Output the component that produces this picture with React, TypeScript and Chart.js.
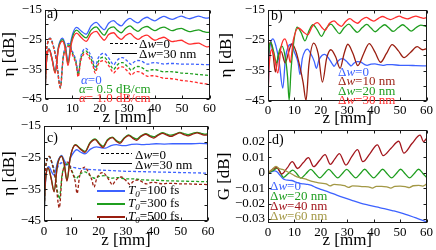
import React, { useEffect, useRef } from 'react';
import { Chart, registerables } from 'chart.js';
Chart.register(...registerables);

const SERIF = '"Liberation Serif", "Times New Roman", Times, serif';
const W = 436;
const H = 250;

// ---------- ticks ----------
const xTicks = [0, 10, 20, 30, 40, 50, 60];
const xTickLabels = ['0', '10', '20', '30', '40', '50', '60'];
const etaTicks = [-45, -40, -35, -30, -25, -20, -15];
const etaTickLabels = ['\u221245', '', '\u221235', '', '\u221225', '', '\u221215'];
const gTicks = [-0.03, -0.02, -0.01, 0, 0.01, 0.02];
const gTickLabels = ['\u22120.03', '\u22120.02', '\u22120.01', '0', '0.01', '0.02'];

// ---------- Δw = 30 nm (solid) family, z grid ----------
const zS = [0, 0.3, 0.8, 1.5, 2.6, 3.7, 4.9, 6.4, 7.4, 8.4, 9.6, 11.5, 13.3, 15.0, 16.8, 18.7, 20.3, 21.6, 23.2, 25.0, 26.4, 27.8, 29.4, 31.0, 32.5, 33.9, 35.5, 37.2, 38.7, 40.1, 41.8, 43.4, 45.0, 46.4, 48.1, 49.7, 51.2, 52.7, 54.4, 56.0, 57.5, 59.0, 60.0];
const etaS30 = [-45, -36, -30, -28.2, -31.5, -35.8, -27.5, -24.6, -27, -32.4, -25, -21.0, -22.3, -23.3, -20.5, -19.3, -20.8, -21.8, -19.6, -18.7, -19.8, -20.5, -18.9, -18.0, -18.9, -19.5, -18.3, -17.6, -18.3, -18.8, -17.9, -17.3, -17.9, -18.3, -17.7, -17.2, -17.7, -18.1, -17.6, -17.2, -17.6, -17.9, -17.7];
const etaS30Alpha05 = [-45, -36.0, -30.1, -28.3, -31.7, -36.1, -27.9, -25.1, -27.6, -33.1, -25.8, -21.9, -23.4, -24.5, -21.9, -20.8, -22.5, -23.6, -21.5, -20.8, -22.0, -22.8, -21.3, -20.5, -21.6, -22.3, -21.2, -20.7, -21.5, -22.1, -21.3, -20.9, -21.6, -22.1, -21.6, -21.3, -21.9, -22.4, -22.1, -21.8, -22.3, -22.7, -22.6];
const etaS30Alpha10 = [-45, -36.0, -30.1, -28.4, -31.9, -36.4, -28.3, -25.6, -28.2, -33.8, -26.6, -22.9, -24.5, -25.7, -23.2, -22.3, -24.1, -25.3, -23.4, -22.8, -24.1, -25.0, -23.7, -23.0, -24.2, -25.0, -24.1, -23.6, -24.6, -25.3, -24.7, -24.3, -25.2, -25.8, -25.5, -25.3, -26.0, -26.6, -26.4, -26.3, -26.9, -27.5, -27.4];
const etaS30T300 = [-45, -36, -30, -28.2, -31.4, -35.6, -27.4, -24.5, -26.9, -32.1, -24.9, -20.9, -22.1, -23.0, -20.3, -19.1, -20.5, -21.4, -19.3, -18.5, -19.5, -20.1, -18.7, -17.8, -18.6, -19.1, -18.1, -17.4, -18.0, -18.4, -17.7, -17.1, -17.6, -17.9, -17.5, -17.0, -17.4, -17.7, -17.3, -17.0, -17.3, -17.6, -17.4];

// ---------- Δw = 0 (dashed) family ----------
const zD = [0, 0.4, 1.0, 1.9, 3.0, 4.2, 5.6, 6.6, 7.6, 8.7, 10.0, 11.4, 12.1, 13.0, 14.0, 14.9, 16.2, 17.5, 18.3, 19.3, 20.5, 21.5, 23, 24.3, 25, 26, 27.3, 28.3, 29.7, 30.8, 31.5, 32.5, 33.8, 35, 36.5, 37.5, 39, 40.5, 42, 43.5, 45, 47, 50, 53, 56, 60];
const etaD0 = [-45, -31, -26, -24.6, -27, -32, -40.8, -31, -27.2, -26.4, -29, -32.5, -36.3, -31, -28.6, -28.0, -29.5, -32, -34.3, -31.5, -30, -29.7, -31, -32.8, -33.6, -32.4, -31.3, -31.1, -32, -33, -33.5, -32.6, -32.1, -32.2, -33, -33.3, -32.9, -32.8, -33.1, -33.3, -33.1, -33.1, -33.3, -33.3, -33.4, -33.5];
const etaD0Alpha05 = [-45, -31.0, -26.1, -24.7, -27.2, -32.3, -41.1, -31.4, -27.7, -26.9, -29.6, -33.2, -37.0, -31.8, -29.4, -28.9, -30.5, -33.1, -35.4, -32.7, -31.2, -31.0, -32.4, -34.3, -35.1, -34.0, -32.9, -32.8, -33.8, -34.8, -35.4, -34.6, -34.1, -34.3, -35.2, -35.6, -35.2, -35.2, -35.6, -35.9, -35.8, -35.9, -36.3, -36.5, -36.8, -37.1];
const etaD0Alpha10 = [-45, -31.0, -26.1, -24.8, -27.3, -32.5, -41.4, -31.7, -28.0, -27.4, -30.1, -33.8, -37.6, -32.4, -30.1, -29.6, -31.3, -33.9, -36.3, -33.6, -32.3, -32.1, -33.5, -35.5, -36.3, -35.3, -34.3, -34.2, -35.3, -36.4, -37.0, -36.2, -35.8, -36.1, -37.0, -37.4, -37.2, -37.3, -37.7, -38.1, -38.1, -38.3, -38.8, -39.1, -39.6, -40.1];

// ---------- panel b: Δw = 10 nm, 20 nm ----------
const zB10 = [0, 0.4, 1.0, 1.9, 2.8, 3.8, 5.0, 6.5, 7.8, 9.0, 10.5, 12.0, 13.3, 14.4, 15.5, 17.3, 19.0, 20.6, 22.2, 23.8, 25.6, 27.3, 28.8, 30.2, 32.2, 34.0, 36.2, 38.3, 40.5, 42.6, 44.8, 47.0, 49.3, 51.5, 54.0, 56.5, 58.5, 60];
const etaB10 = [-33, -27.5, -25.6, -29.5, -35.5, -30.5, -28.8, -32.5, -29, -26.3, -28.5, -33.5, -39, -44.8, -33, -26, -29.5, -38.8, -31, -28.2, -30.5, -34.3, -29.5, -26.4, -29.5, -33.4, -29.5, -26.2, -29, -32.3, -29.5, -26.5, -28.5, -30.8, -29, -27.2, -28.2, -27.8];
const zB20 = [0, 0.4, 1.1, 2.2, 3.2, 4.3, 5.3, 6.6, 7.4, 8.0, 8.7, 9.7, 11.0, 12.5, 14.0, 15.5, 17.0, 18.6, 20.2, 22.0, 23.8, 25.4, 27.0, 28.8, 30.6, 32.2, 33.8, 35.6, 37.4, 39.0, 40.6, 42.4, 44.2, 45.8, 47.4, 49.2, 51.0, 52.6, 54.2, 56.0, 57.8, 60];
const etaB20 = [-34, -28, -25.8, -29, -32.5, -28.5, -27, -31, -37, -44.8, -35, -26, -20.8, -22.5, -25.3, -22, -20.0, -21.6, -23.8, -21.2, -19.8, -21.3, -22.9, -21, -19.8, -21.2, -22.5, -21, -19.9, -21.1, -22.3, -21, -20.0, -21.1, -22.2, -21, -20.0, -21.0, -22.1, -21, -20.1, -20.6];

// ---------- panel c: T0 = 300 fs dashed, T0 = 100 fs ----------
const zC300d = [0, 0.4, 1.0, 1.9, 3.0, 4.2, 5.6, 6.6, 7.6, 8.7, 10.0, 11.7, 13.2, 15.0, 17.0, 18.5, 20.5, 22.0, 24.5, 27, 30, 33, 36, 40, 45, 50, 55, 60];
const etaC300d = [-45, -31, -26, -24.6, -27, -31.5, -38, -30.5, -27.5, -27, -28.8, -31.6, -30.2, -29.5, -30.8, -31.5, -30.8, -30.7, -31.5, -31.3, -31.7, -31.7, -32, -32.1, -32.3, -32.4, -32.5, -32.6];
const zC100 = [0, 0.4, 1.0, 1.8, 2.8, 3.7, 5.0, 6.4, 7.5, 8.5, 10, 12, 13.5, 15, 17, 19.2, 21, 22.5, 24.5, 26.5, 28.5, 30, 32, 34, 36, 38, 41, 44, 47, 50, 54, 57, 60];
const etaC100 = [-45, -35, -29, -27.8, -29.5, -30.5, -26.3, -24.3, -26, -27.3, -24.5, -22.5, -23.3, -23.8, -22.3, -21.6, -21.9, -22.0, -21.2, -20.9, -21.2, -21.2, -20.8, -20.7, -20.9, -20.8, -20.6, -20.7, -20.6, -20.6, -20.6, -20.5, -20.6];
const zC100d = [0, 0.4, 1.0, 1.9, 3.0, 4.2, 5.5, 6.7, 8, 10, 12, 15, 20, 25, 30, 35, 40, 45, 50, 55, 60];
const etaC100d = [-45, -31, -26, -24.7, -26.8, -29.3, -27.2, -26.6, -27.3, -27.9, -28.3, -28.6, -28.9, -29.1, -29.3, -29.4, -29.5, -29.6, -29.7, -29.8, -29.9];

// ---------- panel d: G [dB] ----------
const zG0 = [0, 1, 2.5, 3.5, 4.5, 5.5, 6.5, 7.5, 9, 10.5, 12, 13.5, 15, 16.5, 18, 20, 23, 26, 29, 32, 35, 38, 41, 44, 47, 50, 53, 56, 58, 60];
const gG0 = [0, 0.0005, 0.0012, 0.0005, -0.0015, -0.0035, -0.0045, -0.0048, -0.005, -0.006, -0.0068, -0.0072, -0.0075, -0.0082, -0.0095, -0.0108, -0.0125, -0.0145, -0.0163, -0.018, -0.0197, -0.021, -0.0222, -0.0233, -0.0245, -0.0258, -0.0275, -0.0293, -0.0305, -0.0318];
const zG20 = [0, 2, 3.5, 4.6, 5.8, 7.6, 9.4, 10.9, 12.4, 14.3, 16.2, 17.9, 19.6, 21.3, 23.0, 24.7, 26.4, 28.1, 29.8, 31.5, 33.2, 34.9, 36.6, 38.3, 40.0, 41.7, 43.4, 45.1, 46.8, 48.5, 50.2, 51.9, 53.6, 55.3, 57.0, 58.7, 60];
const gG20 = [0, 0.0015, 0.003, 0.0005, -0.003, -0.0006, 0.0017, -0.0006, -0.0035, -0.0007, 0.0022, -0.0006, -0.0033, -0.0006, 0.0022, -0.0006, -0.0033, -0.0006, 0.0022, -0.0006, -0.0033, -0.0006, 0.0023, -0.0006, -0.0033, -0.0006, 0.0023, -0.0006, -0.0033, -0.0006, 0.0023, -0.0006, -0.0033, -0.0006, 0.0023, -0.0006, -0.003];
const zG40 = [0, 1.5, 3.3, 5.2, 7.2, 9.2, 11.2, 13.3, 15.3, 17.3, 19.5, 21.6, 23.6, 25.3, 27.0, 29.5, 31.7, 33.9, 35.9, 38.6, 41.4, 43.6, 46.5, 49.5, 51.4, 54.5, 57.6, 58.9, 60];
const gG40 = [0, 0.002, 0.0035, -0.0008, 0.003, 0.0072, 0.0028, 0.0065, 0.0098, 0.004, 0.008, 0.0118, 0.0055, 0.009, 0.0125, 0.005, 0.0105, 0.015, 0.0072, 0.0125, 0.0182, 0.0112, 0.0158, 0.0205, 0.0128, 0.019, 0.0245, 0.0202, 0.0224];
const zG60 = [0, 1.5, 3.0, 4.2, 5.5, 7, 8.5, 10, 12, 14, 16, 18, 20, 22, 23.5, 25, 27, 29, 30.5, 32, 34, 36, 38, 39.5, 41, 43, 45, 46.5, 48, 50, 52, 53.5, 55, 57, 58.5, 60];
const gG60 = [0, 0.002, 0.0042, 0.0028, 0.0022, 0.001, -0.0003, -0.0018, -0.0032, -0.004, -0.0052, -0.006, -0.0067, -0.0072, -0.0085, -0.0075, -0.0078, -0.0084, -0.0095, -0.0085, -0.0086, -0.009, -0.0091, -0.0099, -0.0088, -0.0088, -0.0092, -0.0099, -0.0088, -0.0087, -0.009, -0.0096, -0.0084, -0.0082, -0.0086, -0.0074];

const COL = {
  blue: '#3d62ff',
  green: '#1f9e1f',
  red: '#ff2d2d',
  brown: '#9a1e10',
  dred: '#a3161d',
  olive: '#a39845',
};

type Series = { z: number[]; v: number[]; color: string; dash?: boolean };
type Panel = {
  series: Series[];
  left: number; right: number; top: number; bottom: number;
  yTitle: string; yTitleX: number; xTitleY: number;
  yMin: number; yMax: number; yTicks: number[]; yLabels: string[];
  xPad: number;
};

const TITLE_SIZE = 17;
const TICK_SIZE = 13;
const HALF = TITLE_SIZE / 2;

const framePlugin = {
  id: 'frame',
  afterDatasetsDraw(chart: any) {
    const { ctx, chartArea: a } = chart;
    const xs = chart.scales.x;
    const ys = chart.scales.y;
    const L = Math.round(a.left) + 0.5;
    const R = Math.round(a.right) - 0.5;
    const T = Math.round(a.top) + 0.5;
    const B = Math.round(a.bottom) - 0.5;
    ctx.save();
    ctx.setLineDash([]);
    ctx.strokeStyle = '#1a1a1a';
    ctx.lineWidth = 1;
    ctx.strokeRect(L, T, R - L, B - T);
    ctx.beginPath();
    const tl = 3;
    for (const t of xs.ticks) {
      const px = Math.round(xs.getPixelForValue(t.value)) + 0.5;
      ctx.moveTo(px, B); ctx.lineTo(px, B - tl);
      ctx.moveTo(px, T); ctx.lineTo(px, T + tl);
    }
    for (const t of ys.ticks) {
      const py = Math.round(ys.getPixelForValue(t.value)) + 0.5;
      ctx.moveTo(L, py); ctx.lineTo(L + tl, py);
      ctx.moveTo(R, py); ctx.lineTo(R - tl, py);
    }
    ctx.stroke();
    ctx.restore();
  },
};

function PanelChart({ p }: { p: Panel }) {
  const ref = useRef<HTMLCanvasElement>(null);
  useEffect(() => {
    const canvas = ref.current as HTMLCanvasElement;
    const chart = new Chart(canvas, {
      type: 'line',
      data: {
        datasets: p.series.map((s) => ({
          data: s.z.map((z, i) => ({ x: z, y: s.v[i] })),
          borderColor: s.color,
          borderWidth: 1.3,
          borderDash: s.dash ? [3, 2] : [],
          pointRadius: 0,
          cubicInterpolationMode: 'monotone',
          fill: false,
        })),
      },
      options: {
        animation: false,
        responsive: false,
        devicePixelRatio: 1,
        events: [],
        layout: {
          padding: {
            left: p.yTitleX - HALF,
            right: W - p.right,
            top: p.top,
            bottom: H - (p.xTitleY + HALF),
          },
        },
        plugins: { legend: { display: false }, tooltip: { enabled: false } },
        scales: {
          x: {
            type: 'linear',
            min: 0,
            max: 60,
            border: { display: false },
            grid: { display: false, drawTicks: false },
            afterBuildTicks: (s: any) => { s.ticks = xTicks.map((v) => ({ value: v })); },
            ticks: {
              autoSkip: false,
              maxRotation: 0,
              padding: p.xPad,
              color: '#000',
              font: { family: SERIF, size: TICK_SIZE, lineHeight: 1 },
              callback: (_v: any, i: number) => xTickLabels[i],
            },
            title: { display: true, text: 'z [mm]', color: '#000', font: { family: SERIF, size: TITLE_SIZE, lineHeight: 1 }, padding: 0 },
            afterFit: (s: any) => { s.height = p.xTitleY + HALF - p.bottom; },
          },
          y: {
            type: 'linear',
            min: p.yMin,
            max: p.yMax,
            border: { display: false },
            grid: { display: false, drawTicks: false },
            afterBuildTicks: (s: any) => { s.ticks = p.yTicks.map((v) => ({ value: v })); },
            ticks: {
              autoSkip: false,
              padding: 3,
              color: '#000',
              font: { family: SERIF, size: TICK_SIZE, lineHeight: 1 },
              callback: (_v: any, i: number) => p.yLabels[i],
            },
            title: { display: true, text: p.yTitle, color: '#000', font: { family: SERIF, size: TITLE_SIZE, lineHeight: 1 }, padding: 0 },
            afterFit: (s: any) => { s.width = p.left - (p.yTitleX - HALF); },
          },
        },
      } as any,
      plugins: [framePlugin],
    });
    return () => chart.destroy();
  }, []);
  return (
    <canvas
      ref={ref}
      width={W}
      height={H}
      style={{ position: 'absolute', left: 0, top: 0, width: W, height: H, pointerEvents: 'none' }}
    />
  );
}

const panelA: Panel = {
  series: [
    { z: zS, v: etaS30Alpha10, color: COL.red },
    { z: zD, v: etaD0Alpha10, color: COL.red, dash: true },
    { z: zS, v: etaS30Alpha05, color: COL.green },
    { z: zD, v: etaD0Alpha05, color: COL.green, dash: true },
    { z: zS, v: etaS30, color: COL.blue },
    { z: zD, v: etaD0, color: COL.blue, dash: true },
  ],
  left: 45, right: 209.5, top: 6, bottom: 99,
  yTitle: '\u03b7 [dB]', yTitleX: 10, xTitleY: 118,
  yMin: -45, yMax: -15, yTicks: etaTicks, yLabels: etaTickLabels, xPad: 3,
};

const panelB: Panel = {
  series: [
    { z: zS, v: etaS30, color: COL.red },
    { z: zB20, v: etaB20, color: COL.green },
    { z: zB10, v: etaB10, color: COL.brown },
    { z: zD, v: etaD0, color: COL.blue },
  ],
  left: 268, right: 428, top: 7, bottom: 101,
  yTitle: '\u03b7 [dB]', yTitleX: 227, xTitleY: 119,
  yMin: -45, yMax: -15, yTicks: etaTicks, yLabels: etaTickLabels, xPad: 3,
};

const panelC: Panel = {
  series: [
    { z: zS, v: etaS30, color: COL.brown },
    { z: zD, v: etaD0, color: COL.brown, dash: true },
    { z: zS, v: etaS30T300, color: COL.green },
    { z: zC300d, v: etaC300d, color: COL.green, dash: true },
    { z: zC100, v: etaC100, color: COL.blue },
    { z: zC100d, v: etaC100d, color: COL.blue, dash: true },
  ],
  left: 44, right: 208, top: 126, bottom: 221,
  yTitle: '\u03b7 [dB]', yTitleX: 10, xTitleY: 241,
  yMin: -45, yMax: -15, yTicks: etaTicks, yLabels: etaTickLabels, xPad: 4,
};

const panelD: Panel = {
  series: [
    { z: zG60, v: gG60, color: COL.olive },
    { z: zG40, v: gG40, color: COL.dred },
    { z: zG20, v: gG20, color: COL.green },
    { z: zG0, v: gG0, color: COL.blue },
  ],
  left: 268, right: 428, top: 130, bottom: 223,
  yTitle: 'G [dB]', yTitleX: 225, xTitleY: 241,
  yMin: -0.0326, yMax: 0.0278, yTicks: gTicks, yLabels: gTickLabels, xPad: 3,
};

function Txt({ x, y, color = '#000', size = 13, children }: any) {
  return (
    <div
      style={{
        position: 'absolute', left: x, top: y, transform: 'translateY(-50%)',
        color, fontSize: size, fontFamily: SERIF, lineHeight: 1, whiteSpace: 'nowrap',
      }}
    >
      {children}
    </div>
  );
}

function Seg({ x1, x2, y, color = '#000', dash = false, w = 1 }: any) {
  const bg = dash
    ? `repeating-linear-gradient(to right, ${color} 0px, ${color} 3px, transparent 3px, transparent 5px)`
    : color;
  return <div style={{ position: 'absolute', left: x1, top: y - w / 2, width: x2 - x1, height: w, background: bg }} />;
}

const Dw = ({ v }: { v: string }) => (
  <span>{'\u0394'}<i>w</i>={v}</span>
);
const T0 = ({ v }: { v: string }) => (
  <span><i>T</i><sub style={{ fontSize: '0.7em', verticalAlign: '-0.3em', fontStyle: 'italic' }}>0</sub>={v}</span>
);

export default function App() {
  return (
    <div style={{ position: 'absolute', left: 0, top: 0, width: W, height: H, background: '#fff', overflow: 'hidden' }}>
      <PanelChart p={panelA} />
      <PanelChart p={panelB} />
      <PanelChart p={panelC} />
      <PanelChart p={panelD} />

      {/* panel a */}
      <Txt x={47} y={14} size={14}>a)</Txt>
      <Seg x1={110} x2={137} y={43} dash />
      <Txt x={139} y={43}><Dw v="0" /></Txt>
      <Seg x1={112} x2={137} y={53} />
      <Txt x={139} y={53}><Dw v="30 nm" /></Txt>
      <Txt x={81} y={78.5} color={COL.blue}><i>{'\u03b1'}</i>=0</Txt>
      <Txt x={79} y={88} color={COL.green}><i>{'\u03b1'}</i>= 0.5 dB/cm</Txt>
      <Txt x={79} y={97} color={COL.red}><i>{'\u03b1'}</i>= 1.0 dB/cm</Txt>

      {/* panel b */}
      <Txt x={271} y={16} size={14}>b)</Txt>
      <Txt x={338} y={71} color={COL.blue}><Dw v="0" /></Txt>
      <Txt x={338} y={80} color={COL.brown}><Dw v="10 nm" /></Txt>
      <Txt x={338} y={89.5} color={COL.green}><Dw v="20 nm" /></Txt>
      <Txt x={338} y={98.5} color={COL.red}><Dw v="30 nm" /></Txt>

      {/* panel c */}
      <Txt x={47} y={138} size={14}>c)</Txt>
      <Seg x1={101} x2={132} y={153.5} dash />
      <Txt x={135} y={153.5}><Dw v="0" /></Txt>
      <Seg x1={101} x2={132} y={163.5} />
      <Txt x={135} y={163.5}><Dw v="30 nm" /></Txt>
      <Seg x1={97} x2={125} y={190.5} color={COL.blue} w={2} />
      <Txt x={128} y={190.5}><T0 v="100 fs" /></Txt>
      <Seg x1={97} x2={125} y={204} color={COL.green} w={2} />
      <Txt x={128} y={204}><T0 v="300 fs" /></Txt>
      <Seg x1={97} x2={125} y={217} color={COL.brown} w={2} />
      <Txt x={128} y={217}><T0 v="500 fs" /></Txt>

      {/* panel d */}
      <Txt x={272} y={140} size={14}>d)</Txt>
      <Txt x={270} y={185} color={COL.blue}><Dw v="0" /></Txt>
      <Txt x={270} y={195} color={COL.green}><Dw v="20 nm" /></Txt>
      <Txt x={270} y={205} color={COL.dred}><Dw v="40 nm" /></Txt>
      <Txt x={270} y={215} color={COL.olive}><Dw v="60 nm" /></Txt>
    </div>
  );
}
